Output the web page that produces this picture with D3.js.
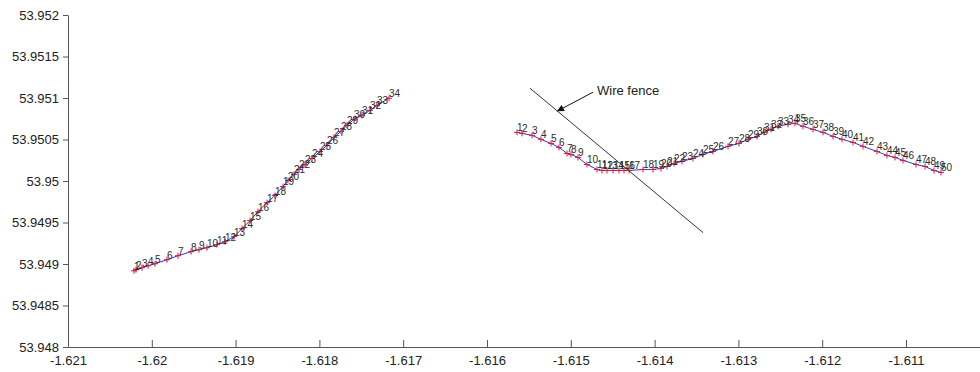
<!DOCTYPE html>
<html>
<head>
<meta charset="utf-8">
<script src="https://cdn.jsdelivr.net/npm/d3@7/dist/d3.min.js"></script>
<style>
  html, body { margin: 0; padding: 0; background: #fff; }
  svg { display: block; }
</style>
</head>
<body>
<svg id="chart" width="980" height="372"></svg>
<script>
// ---------- data ----------
const xTicks = [-1.621, -1.62, -1.619, -1.618, -1.617, -1.616, -1.615, -1.614, -1.613, -1.612, -1.611];
const xTickLabels = ["-1.621", "-1.62", "-1.619", "-1.618", "-1.617", "-1.616", "-1.615", "-1.614", "-1.613", "-1.612", "-1.611"];
const yTicks = [53.948, 53.9485, 53.949, 53.9495, 53.95, 53.9505, 53.951, 53.9515, 53.952];
const yTickLabels = ["53.948", "53.9485", "53.949", "53.9495", "53.95", "53.9505", "53.951", "53.9515", "53.952"];

const leftLon = [-1.620213, -1.620189, -1.620117, -1.620045, -1.619962, -1.619819, -1.619687, -1.619532, -1.619437, -1.619341,
  -1.619222, -1.619126, -1.619019, -1.618924, -1.618828, -1.618733, -1.618625, -1.61853, -1.618434, -1.618375,
  -1.618303, -1.618243, -1.618172, -1.618088, -1.617993, -1.617909, -1.617826, -1.617742, -1.617671, -1.617587,
  -1.617492, -1.617396, -1.617313, -1.617169];
const leftLat = [53.948918, 53.948931, 53.948955, 53.948979, 53.949003, 53.949051, 53.9491, 53.949148, 53.949172, 53.949196,
  53.949233, 53.949269, 53.949329, 53.949426, 53.949523, 53.949631, 53.94974, 53.949825, 53.949934, 53.950006,
  53.950079, 53.950139, 53.950199, 53.950272, 53.950356, 53.950429, 53.950526, 53.950598, 53.950671, 53.950743,
  53.950792, 53.950852, 53.950912, 53.950997];

const rightLon = [-1.615642, -1.615582, -1.615463, -1.615356, -1.615236, -1.615141, -1.615045, -1.614998, -1.614914, -1.614807,
  -1.614687, -1.614628, -1.614568, -1.614496, -1.614425, -1.614365, -1.614305, -1.614138, -1.614019, -1.613924,
  -1.613852, -1.613768, -1.613673, -1.613542, -1.613422, -1.613303, -1.613124, -1.612993, -1.612885, -1.612778,
  -1.612694, -1.612611, -1.612527, -1.612408, -1.612324, -1.612229, -1.61211, -1.61199, -1.611871, -1.611764,
  -1.611632, -1.611513, -1.611346, -1.611227, -1.611131, -1.611036, -1.610881, -1.610773, -1.610666, -1.610582];
const rightLat = [53.950586, 53.950574, 53.95055, 53.950502, 53.950453, 53.950405, 53.950332, 53.95032, 53.950284, 53.950199,
  53.950139, 53.950127, 53.950127, 53.950127, 53.950127, 53.950127, 53.950127, 53.950139, 53.950139, 53.950151,
  53.950175, 53.950211, 53.950236, 53.950272, 53.95032, 53.950356, 53.950417, 53.950453, 53.950502, 53.950538,
  53.950586, 53.950622, 53.950659, 53.950683, 53.950695, 53.950659, 53.950622, 53.950586, 53.950538, 53.950502,
  53.950465, 53.950417, 53.950356, 53.950308, 53.950284, 53.950248, 53.950199, 53.950175, 53.950127, 53.950103];

const fenceLon = [-1.615487, -1.613422];
const fenceLat = [53.951118, 53.949378];
const arrowLon = [-1.614735, -1.615165];
const arrowLat = [53.95107, 53.95084];
const annotation = { text: "Wire fence", lon: -1.614687, lat: 53.951094 };

// ---------- chart ----------
const svg = d3.select("#chart");
svg.append("rect").attr("width", 980).attr("height", 372).attr("fill", "#fff");

const x = d3.scaleLinear().domain([-1.621, -1.610]).range([68, 989.8]);
const y = d3.scaleLinear().domain([53.948, 53.952]).range([347, 15]);

const FONT = "'Liberation Sans', Arial, Helvetica, sans-serif";
const axisColor = "#555";
const textColor = "#222";

// x axis
const xAxis = svg.append("g")
  .attr("transform", `translate(0,${y(53.948)})`)
  .call(d3.axisBottom(x).tickValues(xTicks)
    .tickFormat((d, i) => xTickLabels[i])
    .tickSizeInner(-7).tickSizeOuter(0).tickPadding(9));
xAxis.select(".domain").attr("stroke", axisColor);
xAxis.selectAll(".tick line").attr("stroke", axisColor);
xAxis.selectAll(".tick text").attr("fill", textColor).style("font-family", FONT).style("font-size", "13px");

// y axis
const yAxis = svg.append("g")
  .attr("transform", `translate(${x(-1.621)},0)`)
  .call(d3.axisLeft(y).tickValues(yTicks)
    .tickFormat((d, i) => yTickLabels[i])
    .tickSizeInner(5).tickSizeOuter(0).tickPadding(4));
yAxis.select(".domain").attr("stroke", axisColor);
yAxis.selectAll(".tick line").attr("stroke", axisColor);
yAxis.selectAll(".tick text").attr("fill", textColor).style("font-family", FONT).style("font-size", "13px");

// series
function drawSeries(lons, lats) {
  const pts = lons.map((lon, i) => ({ lon, lat: lats[i], n: i + 1 }));
  const line = d3.line().x(d => x(d.lon)).y(d => y(d.lat));
  const g = svg.append("g");
  g.append("path").datum(pts)
    .attr("d", line).attr("fill", "none")
    .attr("stroke", "#2f3acb").attr("stroke-width", 1);
  g.selectAll("path.mk").data(pts).join("path")
    .attr("class", "mk")
    .attr("transform", d => `translate(${x(d.lon)},${y(d.lat)})`)
    .attr("d", "M-3,0H3M0,-3V3")
    .attr("stroke", "#dc1640").attr("stroke-width", 1).attr("fill", "none");
  g.selectAll("text").data(pts).join("text")
    .attr("x", d => x(d.lon))
    .attr("y", d => y(d.lat) - 1)
    .text(d => d.n)
    .attr("fill", "#2a2a2a")
    .style("font-family", FONT).style("font-size", "10px");
}
drawSeries(leftLon, leftLat);
drawSeries(rightLon, rightLat);

// wire fence
svg.append("line")
  .attr("x1", x(fenceLon[0])).attr("y1", y(fenceLat[0]))
  .attr("x2", x(fenceLon[1])).attr("y2", y(fenceLat[1]))
  .attr("stroke", "#333").attr("stroke-width", 1);

svg.append("defs").append("marker")
  .attr("id", "ah").attr("viewBox", "0 0 10 10")
  .attr("refX", 10).attr("refY", 5)
  .attr("markerWidth", 9).attr("markerHeight", 7)
  .attr("markerUnits", "userSpaceOnUse")
  .attr("orient", "auto")
  .append("path").attr("d", "M0,0L10,5L0,10z").attr("fill", "#111");

svg.append("line")
  .attr("x1", x(arrowLon[0])).attr("y1", y(arrowLat[0]))
  .attr("x2", x(arrowLon[1])).attr("y2", y(arrowLat[1]))
  .attr("stroke", "#111").attr("stroke-width", 1)
  .attr("marker-end", "url(#ah)");

svg.append("text")
  .attr("x", x(annotation.lon)).attr("y", y(annotation.lat))
  .attr("dy", "0.35em")
  .text(annotation.text)
  .attr("fill", textColor)
  .style("font-family", FONT).style("font-size", "13px");
</script>
</body>
</html>
